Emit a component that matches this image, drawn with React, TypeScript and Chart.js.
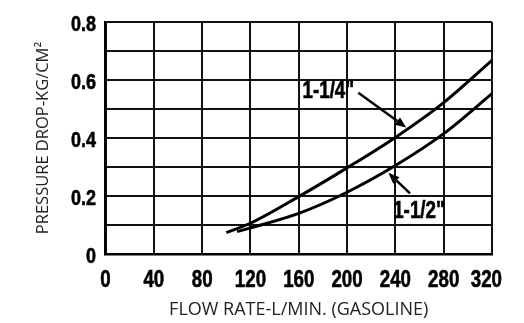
import React, { useEffect, useRef } from "react";
import { Chart, registerables } from "chart.js";

Chart.register(...registerables);

const flowSmall = [100, 120, 160, 200, 240, 280, 320];
const drop114 = [0.074, 0.106, 0.198, 0.297, 0.402, 0.522, 0.668];
const flowLarge = [109, 120, 160, 200, 240, 280, 320];
const drop112 = [0.077, 0.09, 0.14, 0.213, 0.305, 0.415, 0.553];
const xTicks = [0, 40, 80, 120, 160, 200, 240, 280, 320];
const yTicks = [0, 0.1, 0.2, 0.3, 0.4, 0.5, 0.6, 0.7, 0.8];
const yLabelValues = [0, 0.2, 0.4, 0.6, 0.8];
const yLabels = ["0", "0.2", "0.4", "0.6", "0.8"];
const xTitle = "FLOW RATE-L/MIN. (GASOLINE)";
const yTitle = "PRESSURE DROP-KG/CM²";
const labelA = '1-1/4"';
const labelB = '1-1/2"';

const BOLD = "'Liberation Sans', Arial, sans-serif";
const LIGHT = "'Open Sans', 'Noto Sans', sans-serif";

function narrowText(
  ctx: CanvasRenderingContext2D,
  text: string,
  x: number,
  y: number,
  size: number,
  sx: number,
  align: CanvasTextAlign,
  baseline: CanvasTextBaseline
) {
  ctx.save();
  ctx.font = `bold ${size}px ${BOLD}`;
  ctx.fillStyle = "#000";
  ctx.textAlign = align;
  ctx.textBaseline = baseline;
  ctx.translate(x, y);
  ctx.scale(sx, 1);
  ctx.fillText(text, 0, 0);
  ctx.lineWidth = 0.6;
  ctx.strokeStyle = "#000";
  ctx.strokeText(text, 0, 0);
  ctx.restore();
}

function arrow(ctx: CanvasRenderingContext2D, x1: number, y1: number, x2: number, y2: number) {
  const ang = Math.atan2(y2 - y1, x2 - x1);
  const head = 11;
  const bx = x2 - head * Math.cos(ang);
  const by = y2 - head * Math.sin(ang);
  ctx.beginPath();
  ctx.moveTo(x1, y1);
  ctx.lineTo(bx, by);
  ctx.lineWidth = 2.5;
  ctx.strokeStyle = "#000";
  ctx.stroke();
  ctx.beginPath();
  ctx.moveTo(x2, y2);
  ctx.lineTo(bx + 4.5 * Math.sin(ang), by - 4.5 * Math.cos(ang));
  ctx.lineTo(bx - 4.5 * Math.sin(ang), by + 4.5 * Math.cos(ang));
  ctx.closePath();
  ctx.fillStyle = "#000";
  ctx.fill();
}

const textPlugin = {
  id: "narrowText",
  afterDraw(chart: any) {
    const { ctx, scales, chartArea, width } = chart;
    const X = (v: number) => scales.x.getPixelForValue(v);
    const Y = (v: number) => scales.y.getPixelForValue(v);
    ctx.save();
    const xs = 24;
    const xsx = 0.78;
    ctx.font = `bold ${xs}px ${BOLD}`;
    xTicks.forEach((v) => {
      const label = String(v);
      const w = ctx.measureText(label).width * xsx;
      let cx = X(v);
      if (cx + w / 2 > width - 22) cx = width - 22 - w / 2;
      narrowText(ctx, label, cx, chartArea.bottom + 33, xs, xsx, "center", "alphabetic");
    });
    yLabelValues.forEach((v, i) => {
      narrowText(ctx, yLabels[i], chartArea.left - 9.5, Y(v) + 3, 22.5, 0.8, "right", "middle");
    });
    narrowText(ctx, labelA, X(184.5), Y(0.562), 23.5, 0.8, "center", "middle");
    narrowText(ctx, labelB, X(259.6), Y(0.148), 23.5, 0.8, "center", "middle");
    arrow(ctx, X(209.3), Y(0.556), X(249), Y(0.436));
    arrow(ctx, X(252.1), Y(0.209), X(234.2), Y(0.28));
    ctx.restore();
  },
};

export default function App() {
  const ref = useRef<HTMLCanvasElement>(null);
  useEffect(() => {
    document.body.style.margin = "0";
    const chart = new Chart(ref.current!, {
      type: "scatter",
      data: {
        datasets: [
          {
            label: labelA,
            data: flowSmall.map((x, i) => ({ x, y: drop114[i] })),
            showLine: true,
            borderColor: "#000",
            borderWidth: 3,
            pointRadius: 0,
            cubicInterpolationMode: "monotone",
          },
          {
            label: labelB,
            data: flowLarge.map((x, i) => ({ x, y: drop112[i] })),
            showLine: true,
            borderColor: "#000",
            borderWidth: 3,
            pointRadius: 0,
            cubicInterpolationMode: "monotone",
          },
        ],
      },
      options: {
        animation: false,
        responsive: false,
        layout: { padding: { left: 0, right: 32, top: 22, bottom: 0 } },
        plugins: { legend: { display: false }, tooltip: { enabled: false } },
        scales: {
          x: {
            type: "linear",
            min: 0,
            max: 320,
            afterBuildTicks: (s: any) => {
              s.ticks = xTicks.map((v) => ({ value: v }));
            },
            afterFit: (s: any) => {
              s.height = 69;
            },
            grid: { color: "#111", lineWidth: 2, drawTicks: false },
            border: { color: "#000", width: 2.5 },
            ticks: { display: false },
            title: {
              display: true,
              text: xTitle,
              color: "#222",
              font: { family: LIGHT, size: 18 },
              padding: { top: 0, bottom: 2 },
            },
          },
          y: {
            type: "linear",
            min: 0,
            max: 0.8,
            afterBuildTicks: (s: any) => {
              s.ticks = yTicks.map((v) => ({ value: v }));
            },
            afterFit: (s: any) => {
              s.width = 105.5;
            },
            grid: { color: "#111", lineWidth: 2, drawTicks: false },
            border: { color: "#000", width: 2.5 },
            ticks: { display: false },
            title: {
              display: true,
              text: yTitle,
              color: "#222",
              font: { family: LIGHT, size: 16.5 },
              padding: { top: 33, bottom: 0 },
            },
          },
        },
      },
      plugins: [textPlugin],
    } as any);
    return () => chart.destroy();
  }, []);
  return (
    <div style={{ width: 524, height: 323, background: "#fff" }}>
      <canvas ref={ref} width={524} height={323} style={{ display: "block" }} />
    </div>
  );
}
